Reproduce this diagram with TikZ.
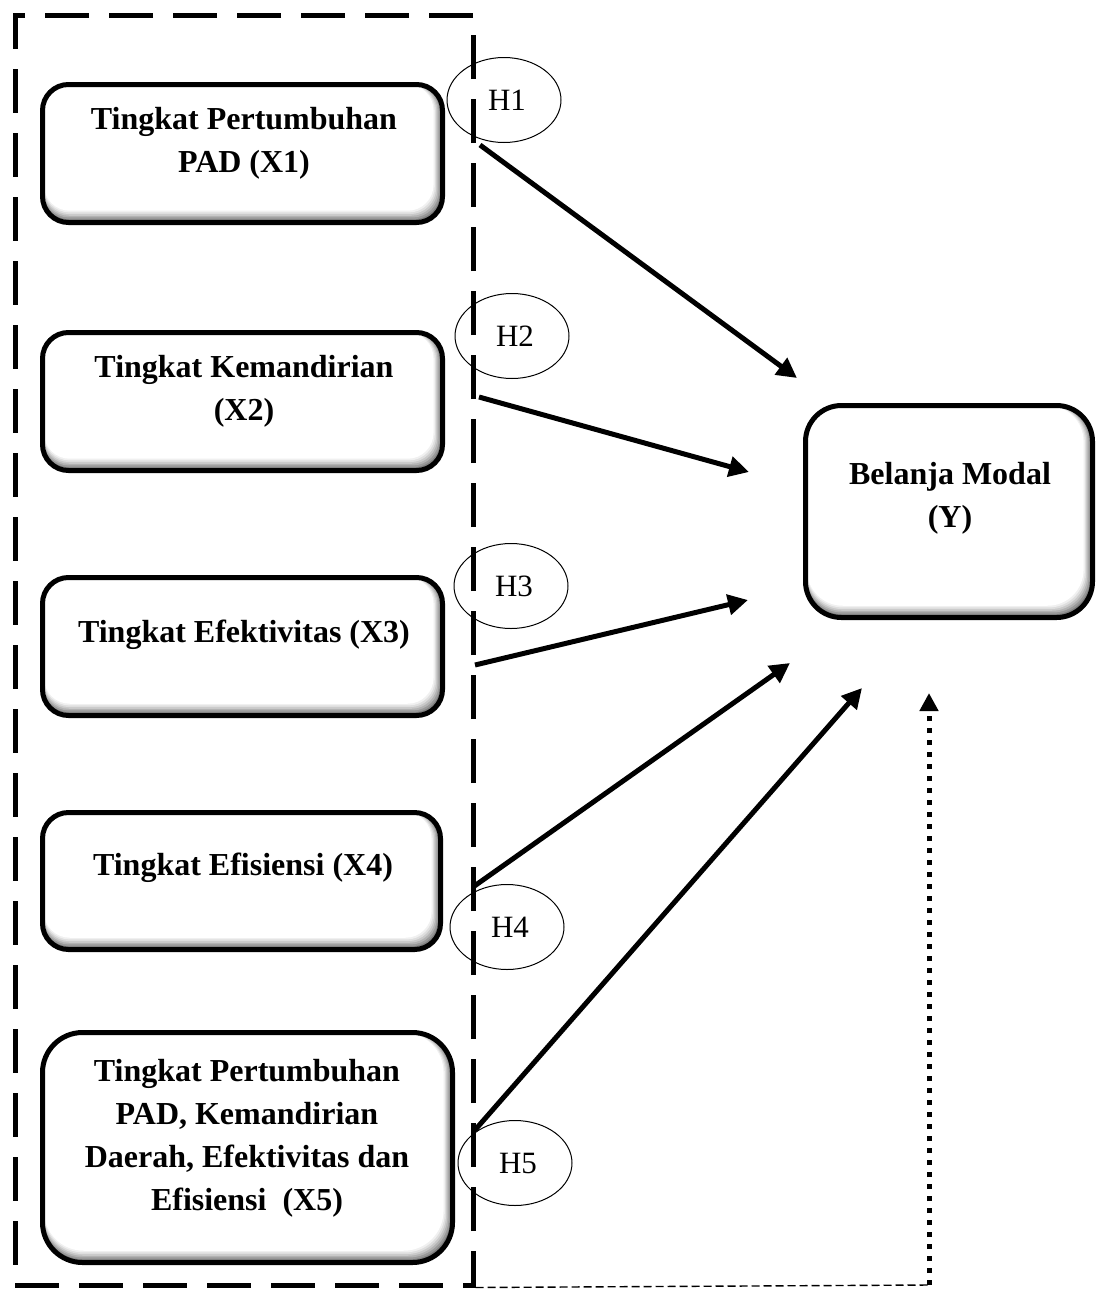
\documentclass[tikz,border=0pt]{standalone}
\usepackage{fontspec}
\setmainfont{Liberation Serif}
\usetikzlibrary{arrows.meta,shapes.geometric}
\tikzset{
  shadowbox/.style={draw, line width=2.5pt, rounded corners=#1, inner sep=0pt,
    path picture={
      \fill[black!62!white] (path picture bounding box.south west) rectangle (path picture bounding box.north east);
      \foreach \s/\c in {0.8/50,1.6/40,2.4/30,3.2/21,4.0/13,4.8/6,5.6/0}{
        \fill[black!\c!white, rounded corners=#1] ([shift={(0.12*\s pt,0pt)}]path picture bounding box.north west) rectangle ([shift={(-0.8*\s pt,1.05*\s pt)}]path picture bounding box.south east);
      }
    }},
  shadowbox/.default=13pt,
  boxtext/.style={align=center, font=\bfseries\fontsize{16}{21.5}\selectfont, inner sep=0pt},
  hyp/.style={draw, ellipse, line width=0.5pt, inner sep=0pt, minimum width=57pt, minimum height=42.5pt, font=\fontsize{15.5}{18}\selectfont},
  frame/.style={draw, line width=2.5pt, dash pattern=on 22pt off 10pt, inner sep=0pt},
  conn/.style={line width=2.5pt, -{Triangle[length=10pt,width=10pt]}},
  thindash/.style={line width=0.7pt, dash pattern=on 4pt off 2pt},
  dotarrow/.style={line width=2.5pt, dash pattern=on 2.5pt off 3.5pt, -{Triangle[length=9pt,width=9pt]}}
}
\begin{document}
\begin{tikzpicture}[x=0.5pt,y=-0.5pt]
\useasboundingbox (0,0) rectangle (1097,1291);
% frame
\node[frame, minimum width=229pt, minimum height=635pt] (frame) at (244,650) {};
% boxes
\node[shadowbox, minimum width=200pt, minimum height=69pt] (b1) at (242.5,153.5) {};
\node[shadowbox, minimum width=200pt, minimum height=69pt] (b2) at (242.5,401.5) {};
\node[shadowbox, minimum width=200pt, minimum height=69pt] (b3) at (242.5,646.5) {};
\node[shadowbox, minimum width=199pt, minimum height=68.5pt] (b4) at (241.5,881) {};
\node[shadowbox=20pt, minimum width=205pt, minimum height=115pt] (b5) at (247.5,1147.5) {};
\node[shadowbox=18pt, minimum width=143.5pt, minimum height=106pt] (by) at (949,511.5) {};
% texts
\node[boxtext] (t1) at (244,143.5) {Tingkat Pertumbuhan\\PAD (X1)};
\node[boxtext] (t2) at (244,391.5) {Tingkat Kemandirian\\(X2)};
\node[boxtext] (t3) at (244,635) {Tingkat Efektivitas (X3)};
\node[boxtext] (t4) at (243,868) {Tingkat Efisiensi (X4)};
\node[boxtext] (t5) at (247,1138) {Tingkat Pertumbuhan\\PAD, Kemandirian\\Daerah, Efektivitas dan\\Efisiensi\ \ (X5)};
\node[boxtext] (ty) at (950,498) {Belanja Modal\\(Y)};
% hypotheses
\node[hyp] (h1) at (504,100) {\hspace{3pt}H1};
\node[hyp] (h2) at (512,336) {\hspace{3pt}H2};
\node[hyp] (h3) at (511,586) {\hspace{3pt}H3};
\node[hyp] (h4) at (507,927) {\hspace{3pt}H4};
\node[hyp] (h5) at (515,1163) {\hspace{3pt}H5};
% connector ends
\coordinate (s1) at (480,145);
\coordinate (e1) at (797,378);
\coordinate (s2) at (479,397);
\coordinate (e2) at (749,472);
\coordinate (s3) at (475,665);
\coordinate (e3) at (748,600);
\coordinate (s4) at (473,887);
\coordinate (e4) at (790,663);
\coordinate (s5) at (475,1130);
\coordinate (e5) at (862,688);
\coordinate (bend) at (929,1285);
\coordinate (ey) at (929,693);
\draw[conn] (s1) -- (e1);
\draw[conn] (s2) -- (e2);
\draw[conn] (s3) -- (e3);
\draw[conn] (s4) -- (e4);
\draw[conn] (s5) -- (e5);
\draw[thindash] (frame.south east) -- (bend);
\draw[dotarrow] (bend) -- (ey);
\end{tikzpicture}
\end{document}
